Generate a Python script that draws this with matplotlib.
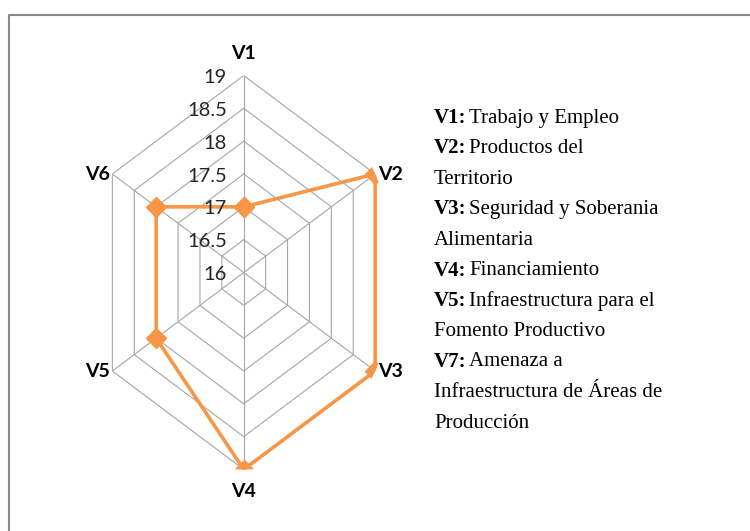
import numpy as np
import matplotlib
matplotlib.use("Agg")
import matplotlib.pyplot as plt
from matplotlib.lines import Line2D

# datos
variables = ["V1", "V2", "V3", "V4", "V5", "V6"]
valores = [17, 19, 19, 19, 18, 18]
marcas = [16, 16.5, 17, 17.5, 18, 18.5, 19]
marcas_txt = ["16", "16.5", "17", "17.5", "18", "18.5", "19"]
leyenda = [
    ("V1:", "Trabajo y Empleo"),
    ("V2:", "Productos del"),
    ("", "Territorio"),
    ("V3:", "Seguridad y Soberania"),
    ("", "Alimentaria"),
    ("V4:", "Financiamiento"),
    ("V5:", "Infraestructura para el"),
    ("", "Fomento Productivo"),
    ("V7:", "Amenaza a"),
    ("", "Infraestructura de Áreas de"),
    ("", "Producción"),
]

naranja = "#F79646"
gris = "#A6A6A6"
sans = ['Lato', 'DejaVu Sans']

fig = plt.figure(figsize=(7.5, 5.31), dpi=100)
ax = fig.add_axes([0.1227, 0.1158, 0.4046, 0.742], projection='polar')
ax.set_aspect('auto')
ax.set_theta_zero_location('N')
ax.set_theta_direction(-1)

ang = np.linspace(0, 2 * np.pi, len(variables), endpoint=False)
ang_c = np.append(ang, ang[0])

# rejilla hexagonal
for r in marcas[1:]:
    ax.plot(ang_c, [r] * len(ang_c), color=gris, lw=0.8, zorder=1)
for a in ang:
    ax.plot([a, a], [16, 19], color=gris, lw=0.8, zorder=1)

ax.plot(ang_c, valores + valores[:1], color=naranja, lw=2.6, marker='D',
        markersize=10, zorder=3)

ax.set_ylim(16, 19)
ax.grid(False)
ax.set_xticks([])
ax.set_yticks([])
ax.spines['polar'].set_visible(False)

for r, t in zip(marcas, marcas_txt):
    ax.annotate(t, xy=(0, r), xytext=(-12, -1.5), textcoords='offset points',
                ha='right', va='center', fontsize=14.5, family=sans, color='#262626')

desp = [(0, 10, 'center', 'bottom'), (2, 0, 'left', 'center'),
        (2, 0, 'left', 'center'), (0, -10, 'center', 'top'),
        (-2, 0, 'right', 'center'), (-2, 0, 'right', 'center')]
for a, v, (dx, dy, ha, va) in zip(ang, variables, desp):
    ax.annotate(v, xy=(a, 19), xytext=(dx, dy), textcoords='offset points',
                ha=ha, va=va, fontsize=14, fontweight='bold', family=sans)

# texto de la derecha
y0 = 118
for i, (b, t) in enumerate(leyenda):
    y = 1 - (y0 + 30.5 * i) / 531
    if b:
        tb = fig.text(434 / 750, y, b, ha='left', va='center', fontsize=15,
                      fontweight='bold', family='Liberation Serif')
        fig.add_artist(matplotlib.text.Annotation(
            t, xy=(1, 0.5), xycoords=tb, xytext=(2, 0), textcoords='offset points',
            ha='left', va='center', fontsize=15, family='Liberation Serif'))
    else:
        fig.text(434 / 750, y, t, ha='left', va='center', fontsize=15,
                 family='Liberation Serif')

fig.add_artist(Line2D([9 / 750, 9 / 750, 1], [0, 1 - 15 / 531, 1 - 15 / 531],
                      transform=fig.transFigure, color='#898989', lw=1.5))

fig.savefig("out.png", dpi=100, facecolor='white')
